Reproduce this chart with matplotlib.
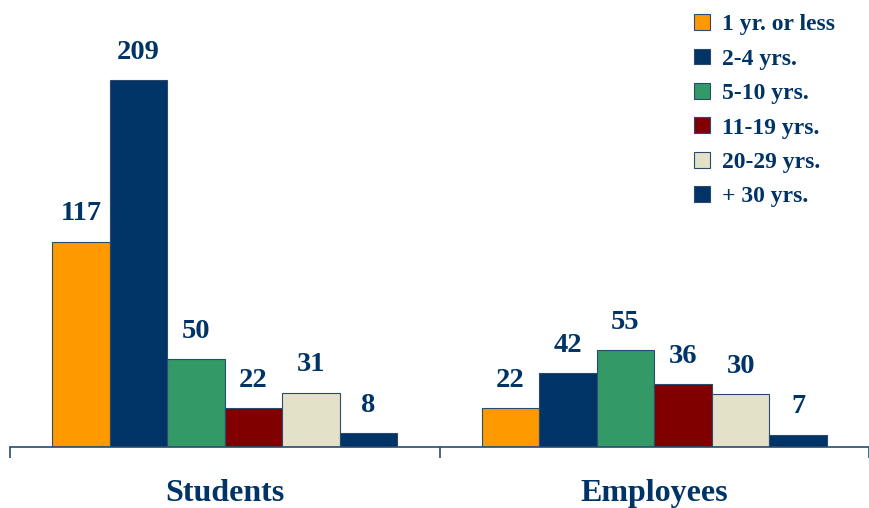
# years of service chart - students vs employees
import numpy as np
import matplotlib.pyplot as plt

# data
groups = ['Students', 'Employees']
series = ['1 yr. or less', '2-4 yrs.', '5-10 yrs.', '11-19 yrs.', '20-29 yrs.', '+ 30 yrs.']
students = [117, 209, 50, 22, 31, 8]
employees = [22, 42, 55, 36, 30, 7]

colors = ['#FF9900', '#003366', '#339966', '#800000', '#E3E1C8', '#003366']
navy = '#003366'

plt.rcParams['font.family'] = ['Liberation Serif', 'DejaVu Serif']

fig = plt.figure(figsize=(8.69, 5.08), dpi=100)
ax = fig.add_axes([10 / 869, 61 / 508, 1 - 10 / 869, 447 / 508])

x = np.arange(len(groups))
w = 0.134
for i, name in enumerate(series):
    vals = [students[i], employees[i]]
    pos = x - 2.5 * w + i * w
    bars = ax.bar(pos, vals, width=w, color=colors[i], edgecolor='#2A4A70',
                  linewidth=0.8, label=name)
    for b, v in zip(bars, vals):
        ax.annotate(str(v), (b.get_x() + b.get_width() / 2, v),
                    xytext=(0, 11), textcoords='offset points',
                    ha='center', va='bottom', fontsize=20.5, fontweight='bold',
                    color=navy)

ax.set_xlim(-0.5, 1.48)
ax.set_ylim(0, 254.6)
for s in ['top', 'right', 'left']:
    ax.spines[s].set_visible(False)
ax.spines['bottom'].set_color('#2A4A70')
ax.spines['bottom'].set_linewidth(1.2)
ax.set_yticks([])
ax.set_xticks([-0.5, 0.5, 1.5])
ax.set_xticklabels([])
ax.tick_params(axis='x', length=8, width=1.2, color='#2A4A70')
for xi, g in zip(x, groups):
    ax.text(xi, -0.105, g, transform=ax.get_xaxis_transform(), ha='center',
            va='center', fontsize=23, fontweight='bold', color=navy)

leg = ax.legend(loc='upper left', bbox_to_anchor=(670 / 859, 1.0), frameon=False,
                prop={'size': 17, 'weight': 'bold'}, handlelength=0.65,
                handleheight=0.65, handletextpad=0.55, labelspacing=0.56,
                borderaxespad=0.2)
for t in leg.get_texts():
    t.set_color(navy)

plt.savefig('out.png', dpi=100)
